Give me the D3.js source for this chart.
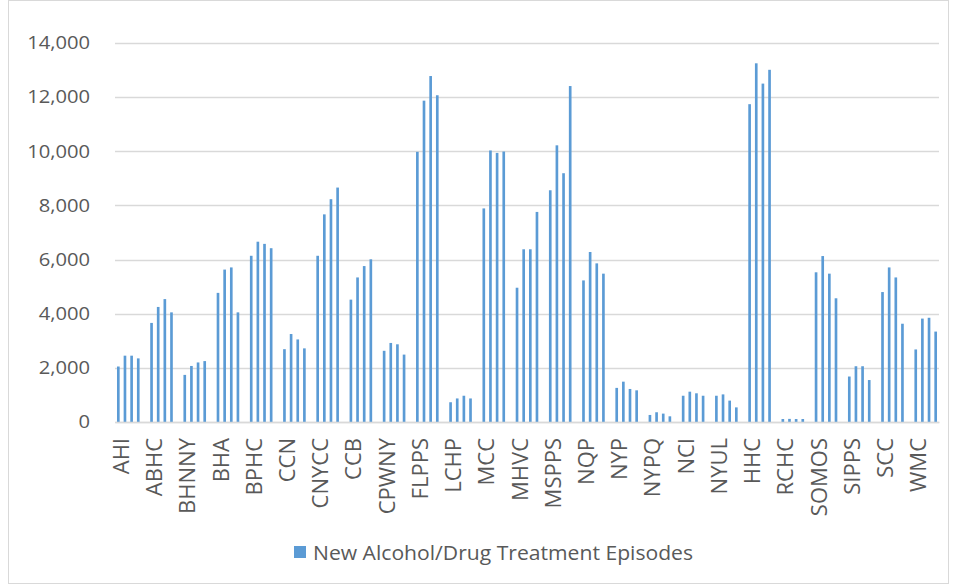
<!DOCTYPE html>
<html>
<head>
<meta charset="utf-8">
<script src="https://cdn.jsdelivr.net/npm/d3@7"></script>
<style>
  html, body { margin: 0; padding: 0; background: #fff; }
  svg { display: block; }
  text { font-family: "Open Sans", "Noto Sans", sans-serif; fill: #595959; }
</style>
</head>
<body>
<svg id="chart" width="957" height="585"></svg>
<script>
// ---- Data ----
const ppsNames = ["AHI","ABHC","BHNNY","BHA","BPHC","CCN","CNYCC","CCB","CPWNY","FLPPS",
                  "LCHP","MCC","MHVC","MSPPS","NQP","NYP","NYPQ","NCI","NYUL","HHC",
                  "RCHC","SOMOS","SIPPS","SCC","WMC"];
const period1 = [2050,3660,1740,4770,6140,2690,6140,4520,2630,9980,
                 730,7890,4960,8560,5230,1260,260,970,970,11740,
                 110,5530,1680,4800,2680];
const period2 = [2450,4250,2070,5630,6660,3250,7670,5340,2920,11870,
                 870,10030,6380,10220,6280,1490,360,1120,1020,13250,
                 115,6130,2060,5710,3820];
const period3 = [2450,4540,2200,5710,6580,3050,8230,5760,2870,12780,
                 970,9940,6380,9190,5860,1220,310,1060,790,12500,
                 110,5480,2060,5340,3850];
const period4 = [2350,4050,2250,4050,6420,2720,8660,6010,2490,12070,
                 870,9990,7760,12410,5480,1170,210,970,540,13010,
                 110,4570,1550,3630,3340];
const yTicks = [0,2000,4000,6000,8000,10000,12000,14000];
const seriesName = "New Alcohol/Drug Treatment Episodes";

// ---- Build the flat category list (4 periods + blank gap per PPS) ----
const periods = [period1, period2, period3, period4];
const slots = [];
ppsNames.forEach((name, i) => {
  periods.forEach((p, j) => slots.push({ key: name + "|" + (j + 1), name, value: p[i], first: j === 0 }));
  if (i < ppsNames.length - 1) slots.push({ key: name + "|gap", name, value: null, first: false });
});

const svg = d3.select("#chart");
const plotLeft = 115, plotRight = 939, plotTop = 43, plotBottom = 422;

const x = d3.scaleBand()
  .domain(slots.map(d => d.key))
  .range([plotLeft, plotRight])
  .paddingInner(0.6)
  .paddingOuter(0.3);

const y = d3.scaleLinear().domain([0, 14000]).range([plotBottom, plotTop]);

// chart border
svg.append("rect")
  .attr("x", 8.5).attr("y", 0.5).attr("width", 957 - 17).attr("height", 585 - 2)
  .attr("fill", "none").attr("stroke", "#D9D9D9");

// gridlines
svg.append("g").selectAll("line")
  .data(yTicks)
  .join("line")
  .attr("x1", plotLeft).attr("x2", plotRight)
  .attr("y1", d => Math.round(y(d)) + 0.5).attr("y2", d => Math.round(y(d)) + 0.5)
  .attr("stroke", "#D9D9D9").attr("stroke-width", 1.4);

// y axis labels
const yAxis = d3.axisLeft(y).tickValues(yTicks).tickFormat(d3.format(",")).tickSize(0).tickPadding(0);
const gy = svg.append("g").attr("transform", `translate(${plotLeft - 25},0)`).call(yAxis);
gy.select(".domain").remove();
gy.selectAll("text")
  .style("font-size", "18px")
  .attr("fill", "#595959")
  .each(function () {
    const w = this.getComputedTextLength();
    d3.select(this).attr("textLength", w * 1.12).attr("lengthAdjust", "spacingAndGlyphs");
  });

// bars
svg.append("g").selectAll("rect")
  .data(slots.filter(d => d.value !== null))
  .join("rect")
  .attr("x", d => x(d.key))
  .attr("width", x.bandwidth())
  .attr("y", d => y(d.value))
  .attr("height", d => y(0) - y(d.value))
  .attr("fill", "#5B9BD5");

// x axis
const xAxis = d3.axisBottom(x)
  .tickValues(slots.filter(d => d.first).map(d => d.key))
  .tickFormat(k => k.split("|")[0])
  .tickSize(0);
const gx = svg.append("g").attr("transform", `translate(0,${plotBottom})`).call(xAxis);
gx.select(".domain").attr("stroke", "#D9D9D9").attr("stroke-width", 1.4);
gx.selectAll("text")
  .style("font-size", "22px")
  .attr("fill", "#595959")
  .attr("text-anchor", "end")
  .attr("dy", null)
  .attr("dominant-baseline", "central")
  .attr("transform", "translate(1.5,16) rotate(-90)")
  .attr("y", 0).attr("x", 0);

// legend
const lg = svg.append("g").attr("transform", "translate(0,552)");
lg.append("rect").attr("x", 294).attr("y", -6).attr("width", 12).attr("height", 12).attr("fill", "#5B9BD5");
lg.append("text").attr("x", 313).attr("y", 0).attr("dominant-baseline", "central")
  .style("font-size", "20px").text(seriesName)
  .attr("textLength", 380).attr("lengthAdjust", "spacingAndGlyphs");
</script>
</body>
</html>
